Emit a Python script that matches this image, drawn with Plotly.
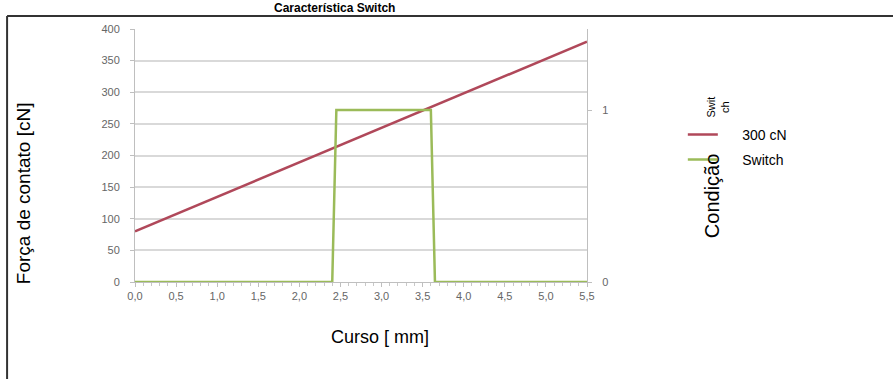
import plotly.graph_objects as go

# Contact force along the stroke
curso = [0.0, 5.5]
forca = [80, 380]

# Switch condition (0 = open, 1 = closed)
curso_sw = [0.0, 2.4, 2.45, 3.6, 3.65, 5.5]
condicao = [0, 0, 1, 1, 0, 0]

x_ticks = [0.0, 0.5, 1.0, 1.5, 2.0, 2.5, 3.0, 3.5, 4.0, 4.5, 5.0, 5.5]
x_labels = ["0,0", "0,5", "1,0", "1,5", "2,0", "2,5", "3,0", "3,5", "4,0", "4,5", "5,0", "5,5"]
y_ticks = [0, 50, 100, 150, 200, 250, 300, 350, 400]
y2_ticks = [0, 1]

RED = "#b0485a"
GREEN = "#9bbb59"
NARROW = "Liberation Sans Narrow, Arial Narrow, sans-serif"
SANS = "Liberation Sans, Arial, sans-serif"
TICK_FONT = dict(family=SANS, size=11, color="#666666")
PAD = "\u00a0" * 5

fig = go.Figure()
fig.add_trace(go.Scatter(x=curso, y=forca, mode="lines", name=PAD + "300 cN",
                         legendgroup="a", line=dict(color=RED, width=2.5)))
fig.add_trace(go.Scatter(x=curso_sw, y=condicao, mode="lines", name=PAD + "Switch",
                         legendgroup="b", yaxis="y2", line=dict(color=GREEN, width=2.5)))

fig.update_layout(
    width=893, height=379,
    margin=dict(l=135, r=306, t=29, b=97),
    paper_bgcolor="white", plot_bgcolor="white",
    showlegend=True,
    legend=dict(x=1.212, y=0.645, xanchor="left", yanchor="top",
                font=dict(family=SANS, size=14, color="black"),
                bgcolor="rgba(0,0,0,0)", traceorder="grouped", tracegroupgap=4,
                itemwidth=30),
    xaxis=dict(range=[0, 5.5], tickvals=x_ticks, ticktext=x_labels, tickfont=TICK_FONT,
               showgrid=False, zeroline=False, showline=True, linecolor="#bfbfbf",
               ticks="outside", ticklen=4, tickcolor="#bfbfbf",
               minor=dict(dtick=0.1, ticks="outside", ticklen=3, tickcolor="#c8c8c8")),
    yaxis=dict(range=[0, 400], tickvals=y_ticks, tickfont=TICK_FONT,
               showgrid=True, gridcolor="#d9d9d9", gridwidth=1.5, zeroline=False,
               showline=True, linecolor="#bfbfbf", ticks="outside", ticklen=4,
               tickcolor="#bfbfbf", ticklabelstandoff=8),
    yaxis2=dict(range=[0, 1.471], tickvals=y2_ticks, overlaying="y", side="right",
                tickfont=TICK_FONT, showgrid=False, zeroline=False,
                showline=True, linecolor="#bfbfbf", ticks="outside", ticklen=4,
                tickcolor="#bfbfbf", ticklabelstandoff=8),
)

# Chart title
fig.add_annotation(text="<b>Característica Switch</b>", xref="paper", yref="paper",
                   x=0.442, y=1.117, xanchor="center", yanchor="top", showarrow=False,
                   font=dict(family=SANS, size=12, color="black"))

# Axis titles
fig.add_annotation(text="Força de contato [cN]", xref="paper", yref="paper",
                   x=-0.245, y=0.352, xanchor="center", yanchor="middle", showarrow=False,
                   textangle=-90, font=dict(family=SANS, size=19, color="black"))
fig.add_annotation(text="Condição", xref="paper", yref="paper",
                   x=1.277, y=0.34, xanchor="center", yanchor="middle", showarrow=False,
                   textangle=-90, font=dict(family=SANS, size=20, color="black"))
fig.add_annotation(text="Curso [ mm]", xref="paper", yref="paper",
                   x=0.542, y=-0.217, xanchor="center", yanchor="middle", showarrow=False,
                   font=dict(family=NARROW, size=18, color="black"))

# Legend heading, rotated
fig.add_annotation(text="Swit<br>ch", xref="paper", yref="paper",
                   x=1.29, y=0.69, xanchor="center", yanchor="middle", showarrow=False,
                   textangle=-90, font=dict(family=NARROW, size=11, color="black"))

# Outer frame: top and left edges
frame = dict(color="#333333", width=2)
fig.add_shape(type="line", xref="paper", yref="paper", x0=-0.283, x1=1.68, y0=1.051, y1=1.051, line=frame)
fig.add_shape(type="line", xref="paper", yref="paper", x0=-0.283, x1=-0.283, y0=1.051, y1=-0.39, line=frame)

fig.write_html("out.html")
